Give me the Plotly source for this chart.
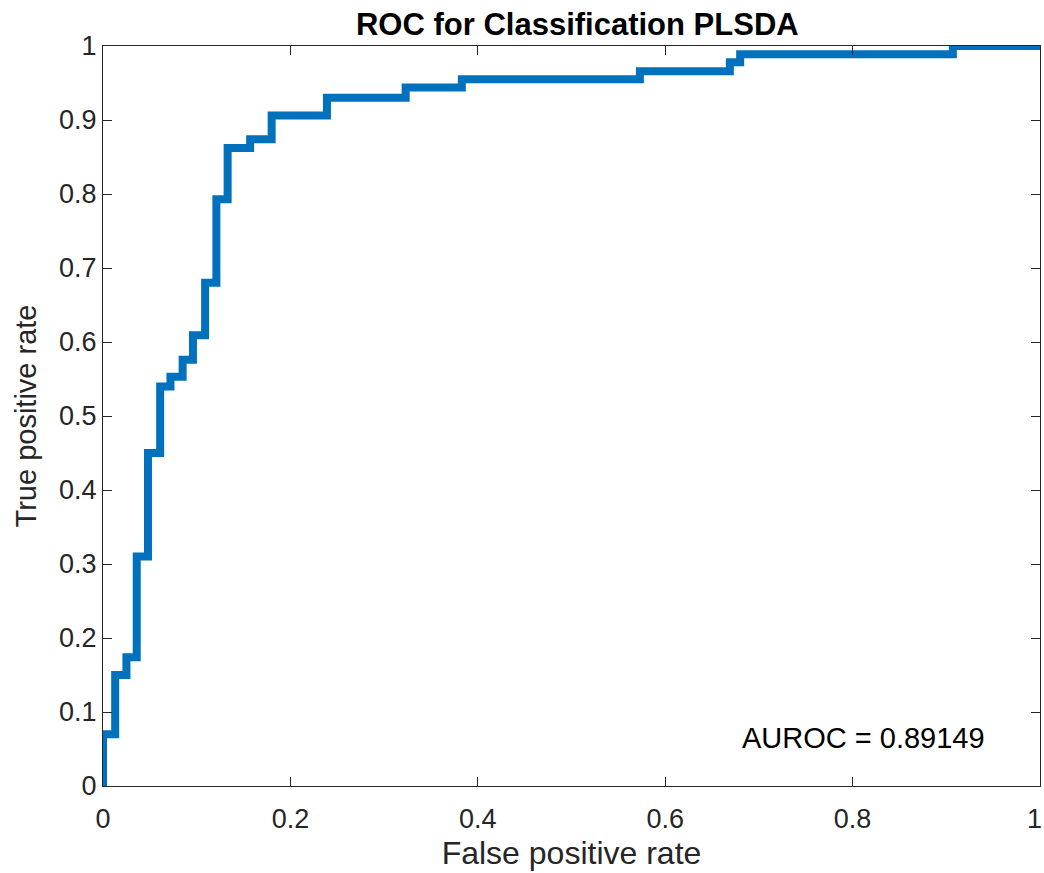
import plotly.graph_objects as go

# ROC curve vertices (top of each vertical jump)
fpr = [0, 0, 0.013, 0.025, 0.036, 0.048, 0.061, 0.072, 0.085, 0.096, 0.109,
       0.121, 0.133, 0.157, 0.180, 0.239, 0.323, 0.383, 0.573, 0.669, 0.680,
       0.907, 1.0]
tpr = [0, 0.07, 0.15, 0.174, 0.31, 0.45, 0.54, 0.553, 0.576, 0.609, 0.68,
       0.793, 0.862, 0.874, 0.906, 0.93, 0.944, 0.955, 0.966, 0.978, 0.989,
       1.0, 1.0]

x_ticks = [0, 0.2, 0.4, 0.6, 0.8, 1]
x_labels = ["0", "0.2", "0.4", "0.6", "0.8", "1"]
y_ticks = [0, 0.1, 0.2, 0.3, 0.4, 0.5, 0.6, 0.7, 0.8, 0.9, 1]
y_labels = ["0", "0.1", "0.2", "0.3", "0.4", "0.5", "0.6", "0.7", "0.8", "0.9", "1"]

title_text = "ROC for Classification PLSDA"
auroc_text = "AUROC = 0.89149"

FONT = "Liberation Sans, Arial, Helvetica, sans-serif"
AX = "#262626"
TICK_SIZE = 27

fig = go.Figure()
fig.add_trace(go.Scatter(
    x=fpr, y=tpr, mode="lines", line_shape="hv",
    line=dict(color="#0072BD", width=8),
    showlegend=False, hoverinfo="skip", cliponaxis=True,
))

axis_common = dict(
    showgrid=False, zeroline=False, showline=True, linecolor=AX, linewidth=1,
    mirror="allticks", ticks="inside", ticklen=9, tickcolor=AX, tickwidth=1,
    tickfont=dict(family=FONT, size=TICK_SIZE, color=AX),
)

# last x tick label sits on the page edge (cut in the reference); draw it
# right-aligned at the edge so it does not overflow the page
edge_label = dict(x=x_ticks[-1], y=0, xref="x", yref="paper", text=x_labels[-1],
                  showarrow=False, xanchor="right", yanchor="top",
                  xshift=4, yshift=-16,
                  font=dict(family=FONT, size=TICK_SIZE, color=AX))

fig.update_layout(
    width=1044, height=873,
    paper_bgcolor="white", plot_bgcolor="white",
    margin=dict(l=103, r=4, t=46, b=87),
    title=dict(text="<b>" + title_text + "</b>", x=0.553, xanchor="center",
               y=0.972, yanchor="middle",
               font=dict(family=FONT, size=31, color="black")),
    xaxis=dict(range=[0, 1], tickvals=x_ticks, ticktext=x_labels,
               ticklabelstandoff=9,
               title=dict(text="False positive rate",
                          font=dict(family=FONT, size=32, color=AX), standoff=8),
               **axis_common),
    yaxis=dict(range=[0, 1], tickvals=y_ticks, ticktext=y_labels,
               title=dict(text="True positive rate",
                          font=dict(family=FONT, size=29, color=AX), standoff=13),
               **axis_common),
    annotations=[
        dict(x=0.68, y=0.065, xref="x", yref="y", text=auroc_text,
             showarrow=False, xanchor="left", yanchor="middle",
             font=dict(family=FONT, size=29, color="black")),
        edge_label,
    ],
)

fig.write_html(
    "out.html",
    config={"displayModeBar": False},
    post_script="document.body.style.margin='0';",
)
